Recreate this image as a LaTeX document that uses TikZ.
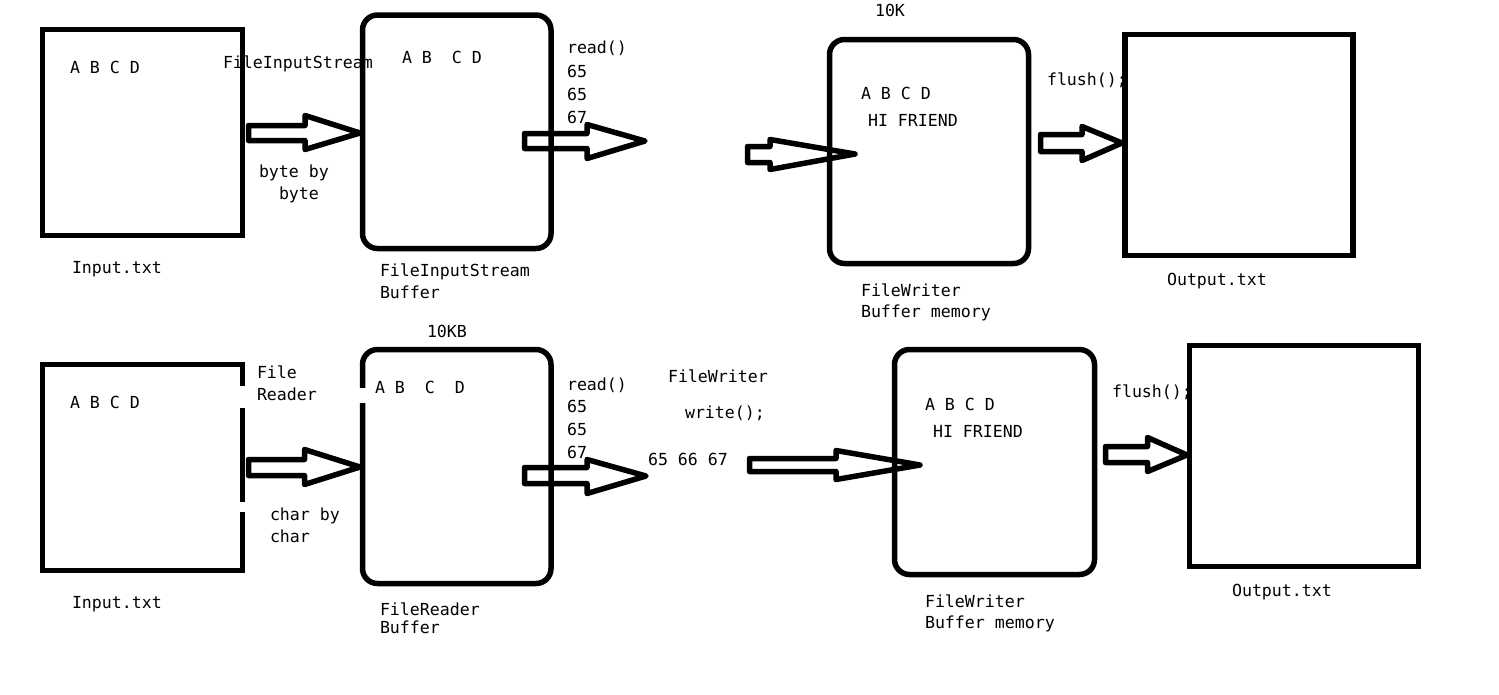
\documentclass[tikz,border=0pt]{standalone}
\usepackage{fontspec}
\setmonofont{DejaVu Sans Mono}
\newcommand{\blkarrow}[8]{%
  \draw[arrowline] (#1,#2) -- (#4,#2) -- (#4,#5) -- (#7,#8) -- (#4,#6) -- (#4,#3) -- (#1,#3) -- cycle;}
\begin{document}
\begin{tikzpicture}[x=1pt,y=-1pt,
  every node/.style={inner sep=0pt, outer sep=0pt},
  txt/.style={anchor=base west, font=\ttfamily\fontsize{16.6}{20}\selectfont},
  filebox/.style={draw, line width=5.5pt, rectangle},
  bufbox/.style={draw, line width=5.5pt, rectangle, rounded corners=15pt},
  arrowline/.style={line width=5.5pt, line join=round}]
\useasboundingbox (0,0) rectangle (1499,694);
\fill[white] (0,0) rectangle (1499,694);

% ---------- top row ----------
\node[filebox, minimum width=200pt, minimum height=206pt] (in1) at (142.5,132.5) {};
\node[bufbox, minimum width=188.5pt, minimum height=233.5pt] (fisb) at (456.75,131.75) {};
\node[bufbox, minimum width=199pt, minimum height=224pt] (fw1) at (929,151.5) {};
\node[filebox, minimum width=228pt, minimum height=221pt] (out1) at (1239,145) {};

\blkarrow{248.5}{125.5}{140.5}{305}{115.5}{149.5}{360}{133}
\blkarrow{524.5}{133.5}{148.5}{587}{124.5}{158.5}{645}{141}
\blkarrow{747.5}{146.5}{162.5}{770}{139.5}{169.5}{855}{154}
\blkarrow{1040.5}{134.5}{151.5}{1082}{126.5}{160.5}{1122}{143}

\node[txt] (t1) at (70,73) {A B C D};
\node[txt] (t2) at (223,68) {FileInputStream};
\node[txt] (t3) at (259,177) {byte by};
\node[txt] (t4) at (279,199) {byte};
\node[txt] (t5) at (72,273) {Input.txt};
\node[txt] (t6) at (402,63) {A B\ \ C D};
\node[txt] (t7) at (380,276) {FileInputStream};
\node[txt] (t8) at (380,298) {Buffer};
\node[txt] (t9) at (567,53) {read()};
\node[txt] (t10) at (567,77) {65};
\node[txt] (t11) at (567,100) {65};
\node[txt] (t12) at (567,123) {67};
\node[txt] (t13) at (875,16) {10K};
\node[txt] (t14) at (861,99) {A B C D};
\node[txt] (t15) at (868,126) {HI FRIEND};
\node[txt] (t16) at (861,296) {FileWriter};
\node[txt] (t17) at (861,317) {Buffer memory};
\node[txt] (t18) at (1047,85) {flush();};
\node[txt] (t19) at (1167,285) {Output.txt};

% ---------- bottom row ----------
\node[filebox, minimum width=200pt, minimum height=206pt] (in2) at (142.5,467.5) {};
\node[bufbox, minimum width=188.5pt, minimum height=234pt] (frb) at (456.75,466.5) {};
\node[bufbox, minimum width=200pt, minimum height=225pt] (fw2) at (994.5,462) {};
\node[filebox, minimum width=229pt, minimum height=221pt] (out2) at (1304,456) {};

% gaps in the borders
\fill[white] (237,386) rectangle (248,408);
\fill[white] (237,502) rectangle (248,512);
\fill[white] (357,388) rectangle (368,403);

\blkarrow{248.5}{459.5}{475.5}{304.5}{449.5}{484.5}{360}{467}
\blkarrow{524.5}{467.5}{483.5}{587}{459.5}{493.5}{646}{476}
\blkarrow{749.5}{458.5}{471.5}{836}{450.5}{479.5}{920}{465}
\blkarrow{1105.5}{446.5}{462.5}{1147.5}{437.5}{471.5}{1187}{455}

\node[txt] (b1) at (70,408) {A B C D};
\node[txt] (b2) at (257,378) {File};
\node[txt] (b3) at (257,400) {Reader};
\node[txt] (b4) at (270,520) {char by};
\node[txt] (b5) at (270,542) {char};
\node[txt] (b6) at (72,608) {Input.txt};
\node[txt] (b7) at (427,337) {10KB};
\node[txt] (b8) at (375,393) {A B\ \ C\ \ D};
\node[txt] (b9) at (380,615) {FileReader};
\node[txt] (b10) at (380,633) {Buffer};
\node[txt] (b11) at (567,390) {read()};
\node[txt] (b12) at (567,412) {65};
\node[txt] (b13) at (567,435) {65};
\node[txt] (b14) at (567,458) {67};
\node[txt] (b15) at (668,382) {FileWriter};
\node[txt] (b16) at (685,418) {write();};
\node[txt] (b17) at (648,465) {65 66 67};
\node[txt] (b18) at (925,410) {A B C D};
\node[txt] (b19) at (933,437) {HI FRIEND};
\node[txt] (b20) at (925,607) {FileWriter};
\node[txt] (b21) at (925,628) {Buffer memory};
\node[txt] (b22) at (1112,397) {flush();};
\node[txt] (b23) at (1232,596) {Output.txt};
\end{tikzpicture}
\end{document}
